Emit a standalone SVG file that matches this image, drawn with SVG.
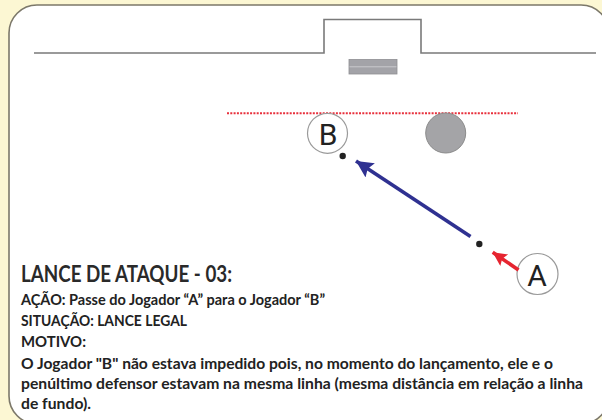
<svg xmlns="http://www.w3.org/2000/svg" width="602" height="420" viewBox="0 0 602 420">
<style>
.field{fill:none;stroke:#7a7a7a;stroke-width:1.6}
.player{fill:#fff;stroke:#9a9a9a;stroke-width:1.2}
.plabel{font-family:Roboto,"Liberation Sans",sans-serif;font-size:30px;fill:#222;text-anchor:middle}
.dot{fill:#222}
.txt{font-family:Lato,"Open Sans","Liberation Sans",sans-serif;fill:#222;font-weight:bold;font-size:16px}
.title{font-family:Lato,"Open Sans","Liberation Sans",sans-serif;fill:#2a2a2a;font-weight:bold;font-size:23px}
</style>
<defs>
<marker id="headBlue" markerUnits="userSpaceOnUse" markerWidth="20" markerHeight="18" refX="17" refY="8.5" orient="auto">
<path d="M0,0 L17,8.5 L0,17 L3,8.5 Z" fill="#2f3191"/>
</marker>
<marker id="headRed" markerUnits="userSpaceOnUse" markerWidth="16" markerHeight="16" refX="14" refY="7" orient="auto">
<path d="M0,0 L14,7 L0,14 L2.5,7 Z" fill="#e62530"/>
</marker>
</defs>
<rect x="0" y="0" width="602" height="420" fill="#fcf7d3"/>
<rect id="card" x="9" y="5" width="600" height="419" rx="28" ry="28" fill="#fff" stroke="#7c786a" stroke-width="1.6"/>
<g id="field">
<polyline class="field" points="34,53 324,53 324,19.5 421,19.5 421,53 596,53"/>
<rect x="349" y="59.5" width="48" height="14.5" fill="#a3a3a8" stroke="#8e8e92" stroke-width="0.8"/>
<line x1="349.5" y1="66.8" x2="396.5" y2="66.8" stroke="#c9c9cd" stroke-width="1"/>
<line x1="227" y1="113.3" x2="518" y2="113.3" stroke="#e8303c" stroke-width="2" stroke-dasharray="2 1.3"/>
</g>
<g id="defender">
<circle cx="445.7" cy="133" r="20" fill="#a4a4a7" stroke="#8c8c8c" stroke-width="1"/>
</g>
<g id="playerB">
<circle class="player" cx="327.5" cy="133.3" r="20"/>
<text class="plabel" x="328" y="144.5">B</text>
</g>
<g id="playerA">
<circle class="player" cx="537.5" cy="274" r="20.5"/>
<text class="plabel" x="537" y="285.5">A</text>
</g>
<g id="balls">
<circle class="dot" cx="342.7" cy="156" r="3.2"/>
<circle class="dot" cx="479.3" cy="244" r="3.2"/>
</g>
<g id="connectors">
<line x1="470.5" y1="236.5" x2="356" y2="161" stroke="#2f3191" stroke-width="3.6" marker-end="url(#headBlue)"/>
<line x1="518.5" y1="270" x2="492.7" y2="252.3" stroke="#e62530" stroke-width="3.6" marker-end="url(#headRed)"/>
</g>
<g id="caption">
<text class="title" x="21" y="282" textLength="211" lengthAdjust="spacingAndGlyphs">LANCE DE ATAQUE - 03:</text>
<text class="txt" x="21" y="305" textLength="304" lengthAdjust="spacingAndGlyphs">AÇÃO: Passe do Jogador “A” para o Jogador “B”</text>
<text class="txt" x="21" y="326" textLength="166" lengthAdjust="spacingAndGlyphs">SITUAÇÃO: LANCE LEGAL</text>
<text class="txt" x="21" y="347" textLength="65" lengthAdjust="spacingAndGlyphs">MOTIVO:</text>
<text class="txt" x="21" y="369" textLength="532" lengthAdjust="spacingAndGlyphs">O Jogador "B" não estava impedido pois, no momento do lançamento, ele e o</text>
<text class="txt" x="21" y="389" textLength="562" lengthAdjust="spacingAndGlyphs">penúltimo defensor estavam na mesma linha (mesma distância em relação a linha</text>
<text class="txt" x="21" y="409" textLength="70" lengthAdjust="spacingAndGlyphs">de fundo).</text>
</g>
</svg>
